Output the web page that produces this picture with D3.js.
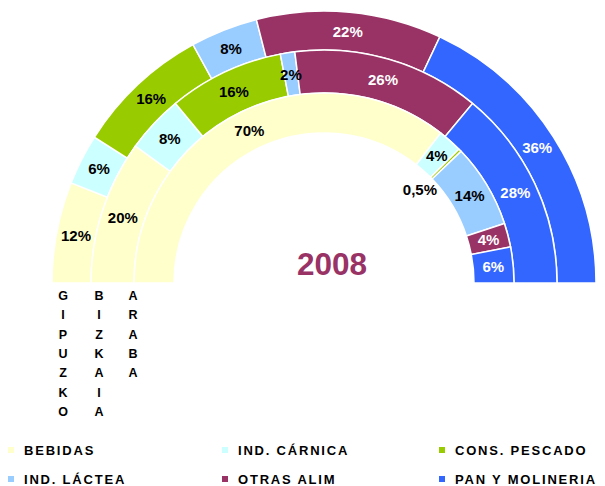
<!DOCTYPE html>
<html>
<head>
<meta charset="utf-8">
<script src="https://cdn.jsdelivr.net/npm/d3@7"></script>
<style>
  body { margin: 0; background: #fff; }
  text { font-family: Arial, "Liberation Sans", sans-serif; font-weight: bold; }
</style>
</head>
<body>
<div id="chart"></div>
<script>
// categories and colours (legend order)
var categories = ["BEBIDAS", "IND. CÁRNICA", "CONS. PESCADO", "IND. LÁCTEA", "OTRAS ALIM", "PAN Y MOLINERIA"];
var colors = ["#FFFFCC", "#CCFFFF", "#99CC00", "#99CCFF", "#993366", "#3366FF"];
var labelColors = ["#000", "#000", "#000", "#000", "#fff", "#fff"];

// provinces, outer ring first
var provinces = ["GIPUZKOA", "BIZKAIA", "ARABA"];
var gipuzkoa = [12, 6, 16, 8, 22, 36];
var bizkaia = [20, 8, 16, 2, 26, 28];
var araba = [70, 4, 0.5, 14, 4, 6];
var valueLabels = [
    ["12%", "6%", "16%", "8%", "22%", "36%"],
    ["20%", "8%", "16%", "2%", "26%", "28%"],
    ["70%", "4%", "0,5%", "14%", "4%", "6%"]
];
var year = "2008";

var width = 605, height = 486;
var cx = 324, cy = 283;
// ring radii: [inner, outer] for each province
var rings = [[233, 272], [190, 233], [150, 190]];
var nameX = [63, 99, 133];

var svg = d3.select("#chart").append("svg")
    .attr("width", width)
    .attr("height", height);

// the province names run down into the legend area and get cut there
svg.append("clipPath").attr("id", "names-clip")
    .append("rect").attr("x", 0).attr("y", 0).attr("width", width).attr("height", 420);

var g = svg.append("g").attr("transform", "translate(" + cx + "," + cy + ")");
var names = svg.append("g").attr("clip-path", "url(#names-clip)");

var pie = d3.pie()
    .sort(null)
    .startAngle(-Math.PI / 2)
    .endAngle(Math.PI / 2);

[gipuzkoa, bizkaia, araba].forEach(function(values, i) {
    var arc = d3.arc().innerRadius(rings[i][0]).outerRadius(rings[i][1]);
    var slices = pie(values);
    var ring = g.append("g").attr("class", "ring");

    ring.selectAll("path")
        .data(slices)
        .enter().append("path")
        .attr("d", arc)
        .attr("fill", function(d, j) { return colors[j]; })
        .attr("stroke", "#fff")
        .attr("stroke-width", 1.5);

    ring.selectAll("text")
        .data(slices)
        .enter().append("text")
        .attr("transform", function(d) {
            var c = arc.centroid(d);
            if (d.data < 1) {
                // tiny slice: label sits inside the hole
                var a = (d.startAngle + d.endAngle) / 2;
                var r = rings[i][0] - 16;
                c = [Math.sin(a) * r, -Math.cos(a) * r];
            }
            return "translate(" + c[0] + "," + c[1] + ")";
        })
        .attr("text-anchor", "middle")
        .attr("dy", "0.36em")
        .attr("font-size", 15)
        .attr("fill", function(d, j) { return d.data < 1 ? "#000" : labelColors[j]; })
        .text(function(d, j) { return valueLabels[i][j]; });

    // vertical province name under the ring
    names.append("g")
        .selectAll("text")
        .data(provinces[i].split(""))
        .enter().append("text")
        .attr("x", nameX[i])
        .attr("y", function(d, k) { return 300 + k * 19.3; })
        .attr("text-anchor", "middle")
        .attr("font-size", 12.5)
        .attr("fill", "#000")
        .text(function(d) { return d; });
});

svg.append("text")
    .attr("x", 332)
    .attr("y", 275)
    .attr("text-anchor", "middle")
    .attr("font-size", 31.5)
    .attr("fill", "#993366")
    .text(year);

// legend, 3 columns x 2 rows
var legend = svg.append("g").selectAll("g")
    .data(categories)
    .enter().append("g")
    .attr("transform", function(d, i) {
        var colX = [8, 222, 439];
        return "translate(" + colX[i % 3] + "," + (450 + Math.floor(i / 3) * 29) + ")";
    });

legend.append("rect")
    .attr("x", 0)
    .attr("y", -3)
    .attr("width", 6)
    .attr("height", 6)
    .attr("fill", function(d, i) { return colors[i]; });

legend.append("text")
    .attr("x", 16)
    .attr("y", 0)
    .attr("dy", "0.35em")
    .attr("font-size", 13)
    .attr("letter-spacing", 1.8)
    .attr("fill", "#000")
    .text(function(d) { return d; });
</script>
</body>
</html>
